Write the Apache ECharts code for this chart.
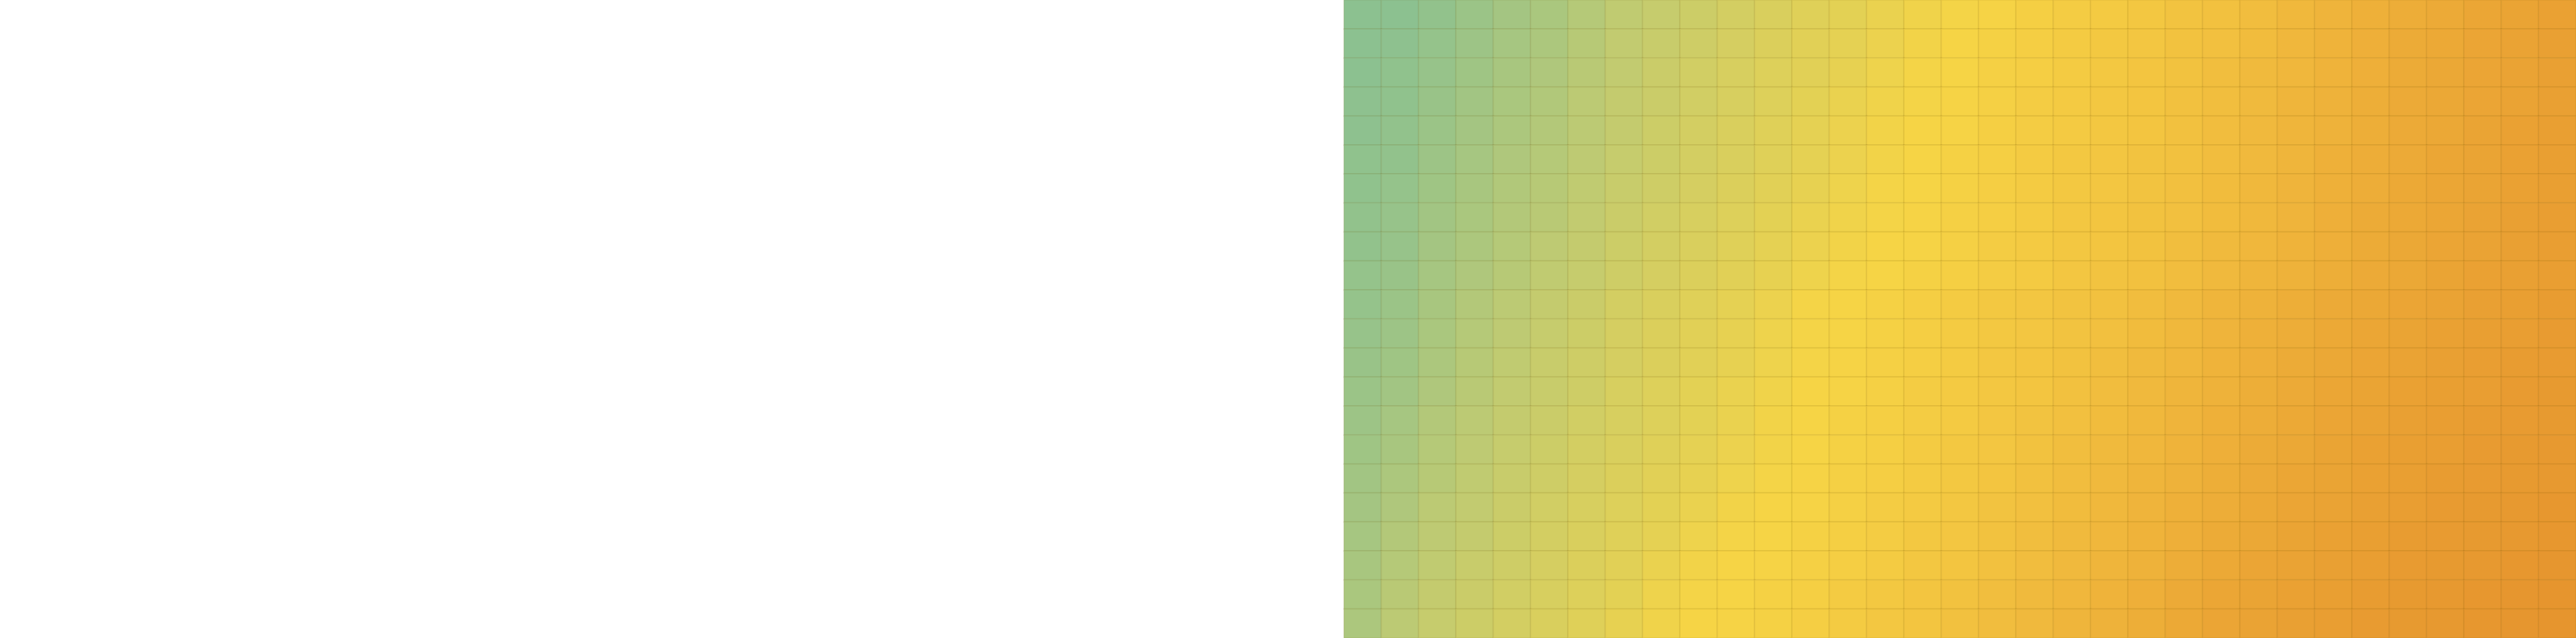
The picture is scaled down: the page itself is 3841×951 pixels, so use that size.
<!DOCTYPE html>
<html>
<head>
<meta charset="utf-8">
<script src="https://cdn.jsdelivr.net/npm/echarts@6/dist/echarts.min.js"></script>
<style>
html,body{margin:0;padding:0;background:#ffffff;}
#chart{width:3841px;height:951px;}
</style>
</head>
<body>
<div id="chart"></div>
<script>
// Column and row categories
const xCategories = ['C0','C1','C2','C3','C4','C5','C6','C7','C8','C9','C10','C11','C12','C13','C14','C15','C16','C17','C18','C19','C20','C21','C22','C23','C24','C25','C26','C27','C28','C29','C30','C31','C32'];
const yCategories = ['R0','R1','R2','R3','R4','R5','R6','R7','R8','R9','R10','R11','R12','R13','R14','R15','R16','R17','R18','R19','R20','R21'];

// Cell values, one row per y category (top to bottom)
const row0  = [0,0,3,7,11,14,19,24,27,30,33,36,39,41,44,47,49,51,54,56,58,60,63,65,68,72,75,78,81,83,86,88,90];
const row1  = [0,1,4,8,12,15,20,25,28,31,34,37,40,42,45,48,50,52,55,57,59,61,64,66,69,73,76,79,82,84,87,89,91];
const row2  = [0,2,5,9,13,16,21,25,29,32,35,38,40,43,46,49,50,53,55,57,59,62,64,67,70,73,76,79,82,85,87,89,91];
const row3  = [1,2,6,10,14,17,22,26,29,32,35,38,41,44,47,49,51,53,56,58,60,62,65,67,70,74,77,80,83,85,87,89,91];
const row4  = [1,3,7,11,15,18,22,26,30,33,36,39,42,45,48,50,51,54,56,58,60,62,65,68,71,74,77,80,83,85,88,90,92];
const row5  = [2,3,8,12,16,19,23,27,30,33,36,39,42,45,48,50,52,54,57,59,61,63,65,68,71,74,78,81,83,86,88,90,92];
const row6  = [2,4,9,13,17,20,24,28,31,34,37,40,43,46,49,50,52,55,57,59,61,63,66,69,72,75,78,81,84,86,88,90,92];
const row7  = [3,5,10,14,18,21,25,29,32,35,38,41,44,47,49,51,53,55,57,60,62,64,66,69,72,75,79,82,84,86,89,91,93];
const row8  = [3,5,11,15,19,23,26,30,33,36,39,42,45,48,50,51,53,56,58,60,62,64,67,70,73,76,79,82,85,87,89,91,93];
const row9  = [4,6,12,16,20,24,27,31,34,37,40,43,46,49,50,52,54,56,58,61,63,65,68,71,74,77,80,83,85,88,90,91,93];
const row10 = [4,7,13,18,22,26,29,33,36,39,42,45,49,50,52,55,57,59,61,63,65,68,71,74,77,80,83,85,87,89,91,92,94];
const row11 = [5,8,14,19,23,27,30,34,37,40,43,46,49,50,52,55,57,59,61,63,66,69,72,75,78,81,84,86,88,90,92,93,95];
const row12 = [6,9,15,20,24,28,31,34,37,40,43,46,49,51,53,55,57,60,62,64,67,70,73,76,79,82,85,87,89,91,93,94,95];
const row13 = [7,10,16,21,25,28,31,35,38,41,44,47,50,51,53,56,58,60,62,65,68,71,74,77,80,83,86,88,90,92,93,95,96];
const row14 = [8,12,18,22,26,29,32,35,38,41,44,48,50,52,54,56,58,61,63,66,69,72,75,78,81,84,87,89,91,93,94,95,96];
const row15 = [9,13,19,23,27,30,33,36,39,42,45,48,50,52,54,57,59,61,64,67,70,73,76,79,82,85,88,90,92,93,95,96,97];
const row16 = [10,15,20,24,28,31,34,37,40,43,46,49,51,53,55,57,59,62,65,68,71,74,77,80,83,86,88,90,92,94,95,96,97];
const row17 = [11,16,22,25,29,32,35,38,41,44,48,50,51,53,56,58,60,63,66,69,72,75,78,81,84,87,89,91,93,95,96,97,98];
const row18 = [12,18,23,26,30,33,36,39,42,46,49,50,52,54,56,59,61,64,67,70,73,76,79,82,85,88,90,92,94,95,96,97,98];
const row19 = [13,19,24,28,31,34,37,40,44,48,50,51,53,55,57,60,62,65,68,71,74,77,81,84,87,89,91,93,95,96,97,98,99];
const row20 = [14,21,26,29,32,35,38,41,46,49,50,52,54,57,59,62,64,67,70,73,76,79,83,86,88,90,92,94,96,97,98,99,100];
const row21 = [15,22,27,30,33,36,39,43,47,50,51,52,55,57,60,62,65,68,71,74,77,80,84,87,89,91,93,95,96,97,98,99,100];

const rows = [row0,row1,row2,row3,row4,row5,row6,row7,row8,row9,row10,row11,row12,row13,row14,row15,row16,row17,row18,row19,row20,row21];

const heatData = [];
rows.forEach(function (r, yi) {
  r.forEach(function (v, xi) { heatData.push([xi, yi, v]); });
});

const chart = echarts.init(document.getElementById('chart'), null, {renderer: 'canvas'});
chart.setOption({
  animation: false,
  backgroundColor: '#ffffff',
  grid: {left: 2004, top: -36.9, width: 1837, height: 1009.8, containLabel: false},
  xAxis: {
    type: 'category', data: xCategories,
    axisLine: {show: false}, axisTick: {show: false}, axisLabel: {show: false},
    splitLine: {show: false}, splitArea: {show: false}
  },
  yAxis: {
    type: 'category', data: yCategories, inverse: true,
    axisLine: {show: false}, axisTick: {show: false}, axisLabel: {show: false},
    splitLine: {show: false}, splitArea: {show: false}
  },
  visualMap: {
    show: false, type: 'continuous', min: 0, max: 100, dimension: 2,
    inRange: {color: ['#8cc190', '#c2cb70', '#f6d445', '#efb43b', '#e6952e']}
  },
  series: [{
    type: 'heatmap',
    data: heatData,
    itemStyle: {borderColor: 'rgba(110,80,0,0.10)', borderWidth: 2},
    emphasis: {disabled: true}
  }]
});
</script>
</body>
</html>
